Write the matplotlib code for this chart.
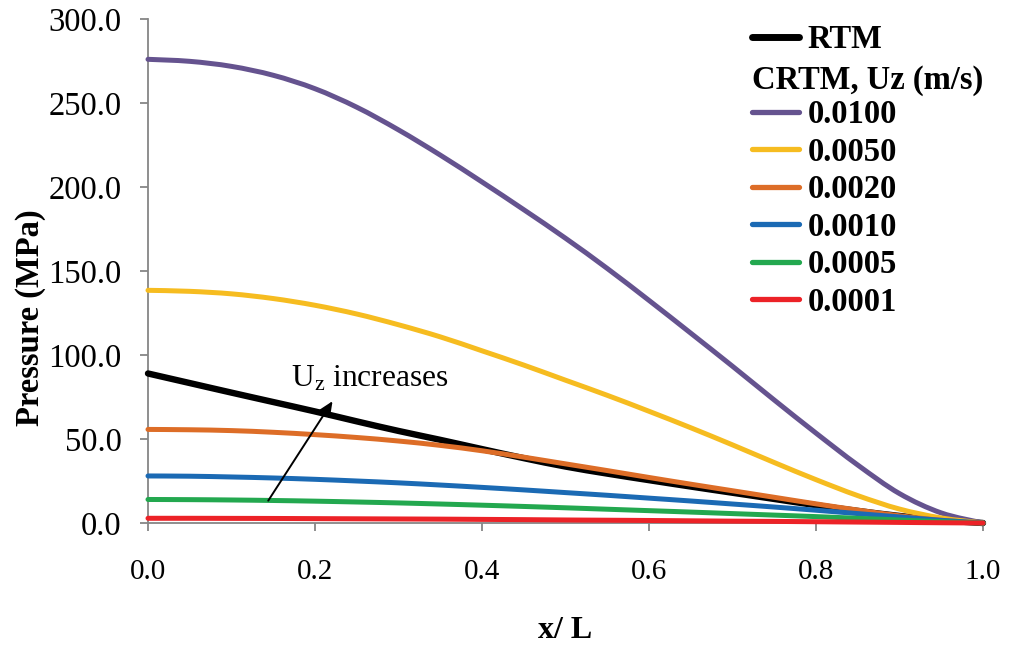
import matplotlib
matplotlib.use("Agg")
import matplotlib.pyplot as plt
from matplotlib.lines import Line2D
from matplotlib.path import Path
from matplotlib.patches import PathPatch

plt.rcParams["font.family"] = ["Liberation Serif", "DejaVu Serif"]
plt.rcParams["mathtext.fontset"] = "custom"
plt.rcParams["mathtext.rm"] = "Liberation Serif"
plt.rcParams["mathtext.it"] = "Liberation Serif:italic"
plt.rcParams["mathtext.bf"] = "Liberation Serif:bold"

# Normalised position along the part
x_over_L = [0.00, 0.05, 0.10, 0.15, 0.20, 0.25, 0.30, 0.35, 0.40, 0.45, 0.50,
            0.55, 0.60, 0.65, 0.70, 0.75, 0.80, 0.85, 0.90, 0.95, 1.00]

# Pressure (MPa)
p_rtm = [89.0, 83.3, 77.6, 72.0, 66.4, 60.5, 54.8, 49.5, 44.0, 38.6, 33.6,
         29.4, 25.5, 21.7, 18.0, 14.3, 10.6, 7.2, 4.2, 1.7, 0.0]
p_0100 = [276.0, 274.8, 271.8, 266.5, 258.5, 247.5, 234.0, 219.0, 203.0, 186.5, 169.5,
          151.5, 132.5, 113.0, 93.3, 73.2, 53.5, 34.5, 17.5, 6.0, 0.0]
p_0050 = [138.5, 137.9, 136.4, 133.6, 129.6, 124.4, 118.0, 110.8, 102.5, 94.0, 85.0,
          76.0, 66.5, 56.7, 46.5, 36.0, 25.8, 16.3, 8.3, 3.0, 0.0]
p_0020 = [55.7, 55.5, 55.0, 54.0, 52.6, 50.9, 48.8, 46.2, 43.0, 39.2, 35.2,
          31.2, 27.1, 23.1, 19.2, 15.3, 11.4, 7.7, 4.3, 1.6, 0.0]
p_0010 = [28.0, 27.85, 27.4, 26.8, 26.0, 25.0, 23.9, 22.6, 21.2, 19.7, 18.1,
          16.5, 14.8, 13.1, 11.3, 9.5, 7.6, 5.6, 3.6, 1.6, 0.0]
p_0005 = [14.0, 13.9, 13.7, 13.4, 13.0, 12.5, 11.95, 11.3, 10.6, 9.85, 9.05,
          8.2, 7.35, 6.5, 5.6, 4.7, 3.8, 2.8, 1.8, 0.8, 0.0]
p_0001 = [2.8, 2.8, 2.75, 2.7, 2.6, 2.5, 2.4, 2.3, 2.15, 2.0, 1.8,
          1.65, 1.5, 1.3, 1.1, 0.95, 0.75, 0.55, 0.35, 0.15, 0.0]

crtm_labels = ["0.0100", "0.0050", "0.0020", "0.0010", "0.0005", "0.0001"]
crtm_series = [p_0100, p_0050, p_0020, p_0010, p_0005, p_0001]
crtm_colors = ["#65538F", "#F6BC20", "#DD6D27", "#1B6AB4", "#23A84F", "#EC2227"]

x_ticks = [0.0, 0.2, 0.4, 0.6, 0.8, 1.0]
y_ticks = [0.0, 50.0, 100.0, 150.0, 200.0, 250.0, 300.0]


def smooth_path(xs, ys):
    """Cubic Bezier path through the points (Catmull-Rom style tangents)."""
    pts = list(zip(xs, ys))
    n = len(pts)
    verts = [pts[0]]
    codes = [Path.MOVETO]
    for i in range(n - 1):
        p0 = pts[i - 1] if i > 0 else pts[i]
        p1 = pts[i]
        p2 = pts[i + 1]
        p3 = pts[i + 2] if i + 2 < n else pts[i + 1]
        c1 = (p1[0] + (p2[0] - p0[0]) / 6, p1[1] + (p2[1] - p0[1]) / 6)
        c2 = (p2[0] - (p3[0] - p1[0]) / 6, p2[1] - (p3[1] - p1[1]) / 6)
        verts += [c1, c2, p2]
        codes += [Path.CURVE4] * 3
    return Path(verts, codes)


def draw_series(ax, xs, ys, color, lw, z):
    patch = PathPatch(smooth_path(xs, ys), facecolor="none", edgecolor=color,
                      lw=lw, capstyle="round", joinstyle="round",
                      clip_on=False, zorder=z)
    ax.add_patch(patch)


W, H = 1012, 645
fig = plt.figure(figsize=(W / 100, H / 100), dpi=100)
ax = fig.add_axes([148 / W, 1 - 523 / H, (983 - 148) / W, (523 - 19) / H])

axis_grey = "#868686"
draw_series(ax, x_over_L, p_rtm, "black", 4.6, 3)
for i, (vals, col) in enumerate(zip(crtm_series, crtm_colors)):
    draw_series(ax, x_over_L, vals, col, 3.6, 4 + i)

ax.set_xlim(0, 1)
ax.set_ylim(0, 300)
ax.set_xticks(x_ticks)
ax.set_yticks(y_ticks)
ax.set_xticklabels([f"{v:.1f}" for v in x_ticks])
ax.set_yticklabels([f"{v:.1f}" for v in y_ticks])

for s in ["top", "right"]:
    ax.spines[s].set_visible(False)
for s in ["left", "bottom"]:
    ax.spines[s].set_color(axis_grey)
    ax.spines[s].set_linewidth(1.3)
    ax.spines[s].set_zorder(2)

ax.tick_params(axis="both", direction="out", length=6, width=1.3,
               color=axis_grey, labelcolor="black")
ax.tick_params(axis="y", pad=13, labelsize=23.5)
ax.tick_params(axis="x", pad=20, labelsize=21)

ax.set_xlabel("x/ L", fontsize=23, fontweight="bold", labelpad=22)
ax.set_ylabel("Pressure (MPa)", fontsize=23.5, fontweight="bold")
ax.yaxis.set_label_coords(46 / W, 1 - 317.5 / H, transform=fig.transFigure)

# Arrow showing the trend with increasing wall speed
ax.annotate("", xy=(0.221, 72.5), xytext=(0.144, 13.3),
            arrowprops=dict(arrowstyle="-|>,head_length=0.9,head_width=0.4",
                            color="black", lw=1.4, shrinkA=0, shrinkB=0),
            zorder=12)
ax.text(0.171, 81, r"$\mathrm{U_z}$ increases", fontsize=22.7,
        ha="left", va="baseline", zorder=12)

# Legend: RTM, a header row, then the CRTM wall speeds
handles = [Line2D([], [], color="black", lw=5.0, solid_capstyle="round"),
           Line2D([], [], color="none", lw=0)]
labels = ["RTM", " "]
for lab, col in zip(crtm_labels, crtm_colors):
    handles.append(Line2D([], [], color=col, lw=3.8, solid_capstyle="round"))
    labels.append(lab)

leg = fig.legend(handles, labels, loc="upper left",
                 bbox_to_anchor=(752 / W, 1 - 24 / H),
                 frameon=False, borderpad=0, borderaxespad=0,
                 handlelength=1.45, handletextpad=0.25, labelspacing=0.2,
                 prop={"family": "Liberation Serif", "weight": "bold", "size": 23.5})

fig.canvas.draw()
renderer = fig.canvas.get_renderer()
hdr_bb = leg.get_texts()[1].get_window_extent(renderer)
hnd_bb = leg.legend_handles[0].get_window_extent(renderer)
y_mid = (hdr_bb.y0 + hdr_bb.y1) / 2 / H
fig.text(hnd_bb.x0 / W, y_mid, "CRTM, Uz (m/s)", fontsize=23.5, fontweight="bold",
         ha="left", va="center_baseline")

fig.savefig("out.png", dpi=100)
